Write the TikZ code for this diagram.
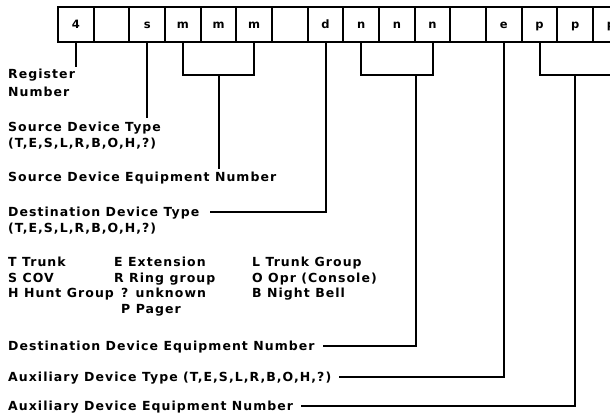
\documentclass[tikz,border=0pt]{standalone}
\usepackage{fontspec}
\newfontfamily\lblfont{DejaVu Sans}[LetterSpace=8.4]
\usetikzlibrary{calc}
\begin{document}
\begin{tikzpicture}[x=1pt,y=-1pt,
  cell/.style={draw,line width=2.1pt,minimum width=35.67pt,minimum height=35pt,inner sep=0pt,
    text height=8.5pt,text depth=1pt,font=\lblfont\bfseries\fontsize{11.5}{13}\selectfont},
  lbl/.style={anchor=base west,inner sep=0pt,font=\lblfont\bfseries\fontsize{12.5}{15}\selectfont},
  conn/.style={line width=2pt}]
\useasboundingbox (0,0) rectangle (610,418);
\fill[white] (0,0) rectangle (610,418);
\clip (0,0) rectangle (610,418);
% register cells
\foreach \i/\t in {0/4,1/{},2/s,3/m,4/m,5/m,6/{},7/d,8/n,9/n,10/n,11/{},12/e,13/p,14/p,15/p}
  \node[cell] (b\i) at ({58+35.67*(\i+0.5)},24.5) {\t};
% labels
\node[lbl] (reg1) at (8,78.5) {Register};
\node[lbl] (reg2) at (8,96) {Number};
\node[lbl] (sdt1) at (8,131.5) {Source Device Type};
\node[lbl] (sdt2) at (8,147.5) {(T,E,S,L,R,B,O,H,?)};
\node[lbl] (sden) at (8,181.5) {Source Device Equipment Number};
\node[lbl] (ddt1) at (8,216.5) {Destination Device Type};
\node[lbl] (ddt2) at (8,232.5) {(T,E,S,L,R,B,O,H,?)};
\node[lbl] (kT) at (8,266.5) {T Trunk};
\node[lbl] (kS) at (8,282.5) {S COV};
\node[lbl] (kH) at (8,297.5) {H Hunt Group};
\node[lbl] (kE) at (114,266.5) {E Extension};
\node[lbl] (kR) at (114,282.5) {R Ring group};
\node[lbl] (kQ) at (121,297.5) {? unknown};
\node[lbl] (kP) at (121,313.5) {P Pager};
\node[lbl] (kL) at (252,266.5) {L Trunk Group};
\node[lbl] (kO) at (252,282.5) {O Opr (Console)};
\node[lbl] (kB) at (252,297.5) {B Night Bell};
\node[lbl] (dden) at (8,350.5) {Destination Device Equipment Number};
\node[lbl] (adt) at (8,381.5) {Auxiliary Device Type (T,E,S,L,R,B,O,H,?)};
\node[lbl] (aden) at (8,410.5) {Auxiliary Device Equipment Number};
% free ends and bracket corners
\coordinate (r0) at (b0.south |- 0,67);
\coordinate (s0) at (b2.south |- 0,118);
\coordinate (mL) at (b3.south |- 0,75);
\coordinate (mR) at (b5.south |- 0,75);
\coordinate (mM) at (b4.south |- 0,75);
\coordinate (mE) at (b4.south |- 0,169);
\coordinate (nL) at (b8.south |- 0,75);
\coordinate (nR) at (b10.south |- 0,75);
\coordinate (nM) at (b9.south east |- 0,75);
\coordinate (pL) at (b13.south |- 0,75);
\coordinate (pR) at (b15.south |- 0,75);
\coordinate (pM) at (b14.south |- 0,75);
% connectors
\draw[conn] (b0.south) -- (r0);
\draw[conn] (b2.south) -- (s0);
\draw[conn] (b3.south) -- (mL) -- (mR) -- (b5.south);
\draw[conn] (mM) -- (mE);
\draw[conn] (b7.south) |- ($(ddt1.base east)+(10,-4.5)$);
\draw[conn] (b8.south) -- (nL) -- (nR) -- (b10.south);
\draw[conn] (nM) |- ($(dden.base east)+(8,-4.5)$);
\draw[conn] (b12.south) |- ($(adt.base east)+(8,-4.5)$);
\draw[conn] (b13.south) -- (pL) -- (pR) -- (b15.south);
\draw[conn] (pM) |- ($(aden.base east)+(8,-4.5)$);
\end{tikzpicture}
\end{document}
